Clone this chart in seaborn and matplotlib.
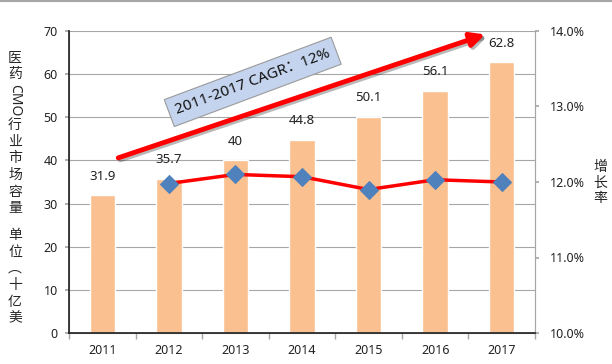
import numpy as np
import pandas as pd
import matplotlib.pyplot as plt
import matplotlib.ticker as mticker
import matplotlib.patheffects as pe
from matplotlib.lines import Line2D
import seaborn as sns

# market size (billion USD) and yearly growth rate (%)
years = [2011, 2012, 2013, 2014, 2015, 2016, 2017]
market = [31.9, 35.7, 40, 44.8, 50.1, 56.1, 62.8]
growth_years = [2012, 2013, 2014, 2015, 2016, 2017]
growth = [11.98, 12.10, 12.07, 11.90, 12.03, 12.00]

sns.set_theme(style='white')
plt.rcParams['font.family'] = ['Noto Sans', 'Noto Sans CJK SC', 'DejaVu Sans']

W, H = 612, 364
fig = plt.figure(figsize=(W / 100, H / 100), dpi=100)
ax = fig.add_axes([69 / W, 1 - 333 / H, (535 - 69) / W, (333 - 31) / H])

market_df = pd.DataFrame({'year': years, 'market': market})
sns.barplot(data=market_df, x='year', y='market', native_scale=True, width=0.38,
            color='#FAC090', saturation=1, ax=ax)
ax.bar_label(ax.containers[0], labels=[f'{v:g}' for v in market], padding=9,
             fontsize=9.5, color='#222222')

ax.set_xlim(2010.5, 2017.5)
ax.set_ylim(0, 70)
ax.set_yticks(range(0, 71, 10))
ax.set_xticks(years)
ax.set_xticks(np.arange(2010.5, 2018, 1), minor=True)
ax.set_xlabel('')
ax.set_ylabel('')
ax.yaxis.grid(True, color='#a6a6a6', lw=0.8)
ax.set_axisbelow(True)
ax.tick_params(axis='x', which='major', length=0, labelsize=9, pad=8, labelcolor='#222222')
ax.tick_params(axis='x', which='minor', length=4, color='#a6a6a6', bottom=True)
ax.tick_params(axis='y', length=3, color='#a6a6a6', labelsize=9, pad=5, labelcolor='#222222', left=True)
ax.spines['top'].set_visible(False)
for s in ['left', 'bottom', 'right']:
    ax.spines[s].set_color('#a6a6a6')
    ax.spines[s].set_linewidth(0.8)

ax2 = ax.twinx()
sns.lineplot(x=growth_years, y=growth, color='red', lw=2.5, marker='D', markersize=9,
             markerfacecolor='#4F81BD', markeredgecolor='#4F81BD', ax=ax2)
ax2.set_ylim(10, 14)
ax2.set_yticks([10, 11, 12, 13, 14])
ax2.yaxis.set_major_formatter(mticker.FuncFormatter(lambda v, p: f'{v:.1f}%'))
ax2.tick_params(axis='y', length=3, color='#a6a6a6', labelsize=9, pad=8, labelcolor='#222222', right=True)
ax2.spines['top'].set_visible(False)
ax2.spines['right'].set_color('#a6a6a6')
ax2.spines['right'].set_linewidth(0.8)
ax2.set_xlim(2010.5, 2017.5)

# CAGR arrow and label
ax.annotate('', xy=(2016.75, 69.2), xytext=(2011.24, 40.6),
            arrowprops=dict(arrowstyle='-|>,head_length=0.7,head_width=0.35', color='red', lw=3.5,
                            shrinkA=0, shrinkB=0,
                            path_effects=[pe.SimpleLineShadow(offset=(1.5, -1.5), alpha=0.3), pe.Normal()]))
ax.text(2013.26, 58.2, '2011-2017 CAGR：12%', rotation=20.5, rotation_mode='anchor',
        ha='center', va='center', fontsize=11, color='#111111',
        bbox=dict(boxstyle='square,pad=0.45', fc='#c5d4ee', ec='#9a9a9a', lw=0.8))

# axis titles, stacked vertically
fs = 10
fig.text(15 / W, 1 - 50 / H, '医\n药', ha='center', va='top', fontsize=fs, linespacing=1.15)
fig.text(15 / W, 1 - 100 / H, 'CMO', ha='center', va='center', fontsize=fs, rotation=-90)
fig.text(15 / W, 1 - 118 / H, '行\n业\n市\n场\n容\n量', ha='center', va='top', fontsize=fs, linespacing=1.15)
fig.text(15 / W, 1 - 228 / H, '单\n位\n︵\n十\n亿\n美', ha='center', va='top', fontsize=fs, linespacing=1.15)
fig.text(600 / W, 1 - 183 / H, '增\n长\n率', ha='center', va='center', fontsize=fs, linespacing=1.05)

fig.add_artist(Line2D([0, 1], [0.998, 0.998], color='#a6a6a6', lw=1.5, transform=fig.transFigure))

fig.savefig('out.png', dpi=100)
